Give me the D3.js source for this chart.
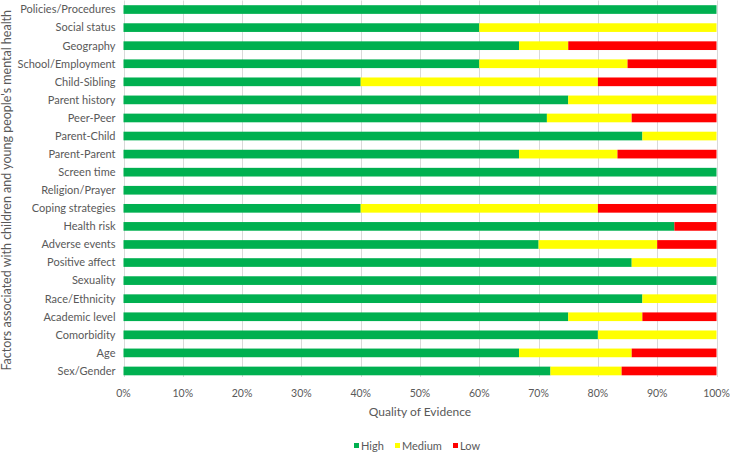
<!DOCTYPE html>
<html>
<head>
<meta charset="utf-8">
<script src="https://cdn.jsdelivr.net/npm/d3@7"></script>
<style>
  body { margin: 0; background: #fff; }
  svg text { font-family: Lato, "Open Sans", sans-serif; fill: #595959; }
</style>
</head>
<body>
<svg id="chart" width="730" height="454"></svg>
<script>
// categories top to bottom
const factors = ["Policies/Procedures", "Social status", "Geography", "School/Employment",
  "Child-Sibling", "Parent history", "Peer-Peer", "Parent-Child", "Parent-Parent",
  "Screen time", "Religion/Prayer", "Coping strategies", "Health risk", "Adverse events",
  "Positive affect", "Sexuality", "Race/Ethnicity", "Academic level", "Comorbidity",
  "Age", "Sex/Gender"];

// percent of studies per quality level
const high   = [100, 60, 66.7, 60, 40, 75, 71.4, 87.5, 66.7, 100, 100, 40, 92.9, 70, 85.7, 100, 87.5, 75, 80, 66.7, 72];
const medium = [0, 40, 8.3, 25, 40, 25, 14.3, 12.5, 16.6, 0, 0, 40, 0, 20, 14.3, 0, 12.5, 12.5, 20, 19, 12];
const low    = [0, 0, 25, 15, 20, 0, 14.3, 0, 16.7, 0, 0, 20, 7.1, 10, 0, 0, 0, 12.5, 0, 14.3, 16];

const levels = ["High", "Medium", "Low"];
const colors = ["#00B050", "#FFFF00", "#FF0000"];
const xTicks = [0, 10, 20, 30, 40, 50, 60, 70, 80, 90, 100];

const rows = factors.map((f, i) => ({ factor: f, High: high[i], Medium: medium[i], Low: low[i] }));

const svg = d3.select("#chart");
const plotLeft = 123.5, plotRight = 716.5, plotTop = 0.5, plotBottom = 380;

const x = d3.scaleLinear().domain([0, 100]).range([plotLeft, plotRight]);
const y = d3.scaleBand().domain(factors).range([plotTop, plotBottom]).paddingInner(0.52).paddingOuter(0.26);
const color = d3.scaleOrdinal(levels, colors);

// gridlines
svg.append("g")
  .selectAll("line")
  .data(xTicks)
  .join("line")
  .attr("x1", d => Math.round(x(d)) + 0.5)
  .attr("x2", d => Math.round(x(d)) + 0.5)
  .attr("y1", plotTop)
  .attr("y2", plotBottom - 3)
  .attr("stroke", "#d9d9d9")
  .attr("stroke-width", 1);

const stacked = d3.stack().keys(levels)(rows);

svg.append("g")
  .selectAll("g")
  .data(stacked)
  .join("g")
  .attr("fill", d => color(d.key))
  .selectAll("rect")
  .data(d => d)
  .join("rect")
  .attr("x", d => x(d[0]))
  .attr("width", d => x(d[1]) - x(d[0]))
  .attr("y", d => y(d.data.factor))
  .attr("height", y.bandwidth());

// category labels
svg.append("g")
  .selectAll("text")
  .data(factors)
  .join("text")
  .attr("x", plotLeft - 8)
  .attr("y", d => y(d) + y.bandwidth() / 2)
  .attr("dy", "0.35em")
  .attr("text-anchor", "end")
  .style("font-size", "11px")
  .text(d => d);

// x tick labels
svg.append("g")
  .selectAll("text")
  .data(xTicks)
  .join("text")
  .attr("x", d => x(d))
  .attr("y", 393)
  .attr("dy", "0.35em")
  .attr("text-anchor", "middle")
  .style("font-size", "10.5px")
  .text(d => d + "%");

// axis titles
svg.append("text")
  .attr("x", (plotLeft + plotRight) / 2)
  .attr("y", 412)
  .attr("dy", "0.35em")
  .attr("text-anchor", "middle")
  .style("font-size", "12px")
  .text("Quality of Evidence");

svg.append("text")
  .attr("transform", `translate(7,${(plotTop + plotBottom) / 2}) rotate(-90)`)
  .attr("dy", "0.35em")
  .attr("text-anchor", "middle")
  .style("font-size", "12.5px")
  .text("Factors associated with children and young people's mental health");

// legend
const legendX = [354, 395, 453];
const legend = svg.append("g")
  .selectAll("g")
  .data(levels)
  .join("g")
  .attr("transform", (d, i) => `translate(${legendX[i]},446)`);

legend.append("rect")
  .attr("x", 0)
  .attr("y", -3)
  .attr("width", 5)
  .attr("height", 5)
  .attr("fill", d => color(d));

legend.append("text")
  .attr("x", 7)
  .attr("y", 0)
  .attr("dy", "0.35em")
  .style("font-size", "11px")
  .text(d => d);
</script>
</body>
</html>
